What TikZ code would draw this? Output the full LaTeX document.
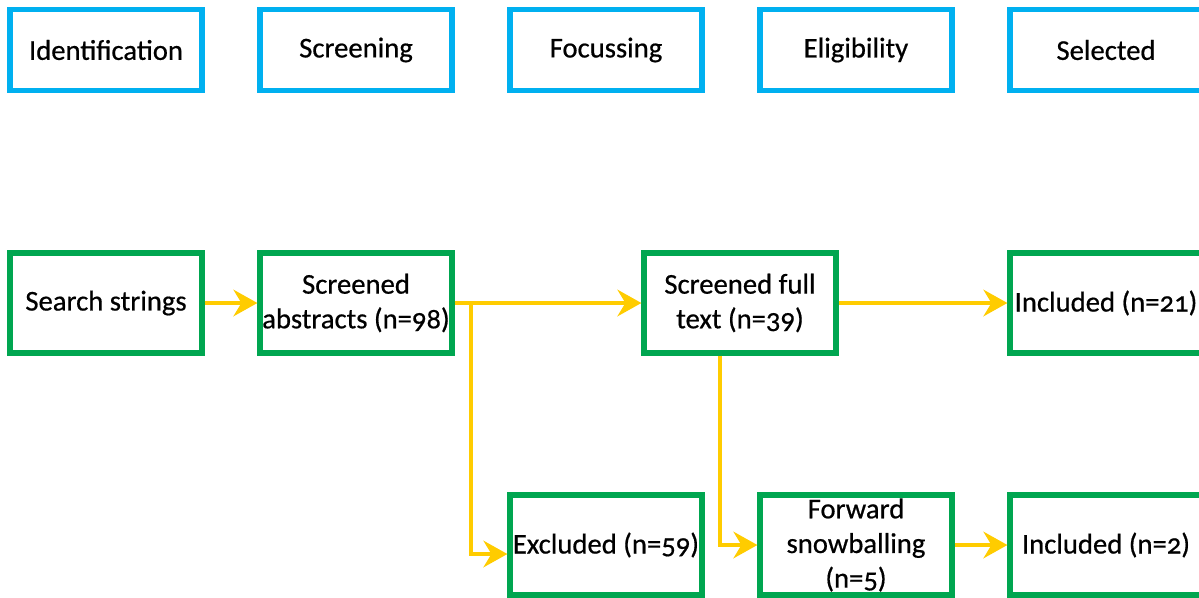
\documentclass[tikz,border=0pt]{standalone}
\usepackage{fontspec}
\setmainfont{Carlito}[Numbers=OldStyle, FakeBold=0.6]
\usetikzlibrary{arrows.meta,calc}
\definecolor{stageblue}{RGB}{0,176,240}
\definecolor{boxgreen}{RGB}{0,166,80}
\definecolor{flowyellow}{RGB}{255,204,0}
\tikzset{
  stagebox/.style={draw=stageblue, line width=3.9pt, minimum width=144pt,
    minimum height=61pt, inner sep=0pt, align=center, font=\fontsize{21.5}{26}\selectfont},
  flowbox/.style={draw=boxgreen, line width=3.9pt, minimum width=144pt,
    minimum height=75pt, inner sep=0pt, align=center, font=\fontsize{21.5}{26}\selectfont},
  flowarrow/.style={draw=flowyellow, line width=2.3pt,
    -{Stealth[length=18pt, width=20pt, inset=6pt, flowyellow]}},
}
\begin{document}
\begin{tikzpicture}[x=0.75pt, y=-0.75pt]
\useasboundingbox (0,0) rectangle (1199,597);
% stage headers
\node[stagebox] (s1) at (106,50) {Identification};
\node[stagebox] (s2) at (356,50) {Screening};
\node[stagebox] (s3) at (606,50) {Focussing};
\node[stagebox] (s4) at (856,50) {Eligibility};
\node[stagebox] (s5) at (1106,50) {Selected};
% flow boxes
\node[flowbox] (search) at (106,303) {Search strings};
\node[flowbox] (abs) at (356,303) {Screened\\abstracts (n=98)};
\node[flowbox] (full) at (740,303) {Screened full\\text (n=39)};
\node[flowbox] (inc1) at (1106,303) {Included (n=21)};
\node[flowbox] (excl) at (606,545) {Excluded (n=59)};
\node[flowbox] (fwd) at (856,545) {Forward\\snowballing\\(n=5)};
\node[flowbox] (inc2) at (1106,545) {Included (n=2)};
% connectors
\coordinate (br) at (471,303);
\draw[flowarrow] (search) -- (abs);
\draw[flowarrow] (abs) -- (full);
\draw[flowarrow] (br) |- ($(excl.west)+(0,9)$);
\draw[flowarrow] ($(full.south)+(-20,0)$) |- (fwd.west);
\draw[flowarrow] (full) -- (inc1);
\draw[flowarrow] (fwd) -- (inc2);
\end{tikzpicture}
\end{document}
